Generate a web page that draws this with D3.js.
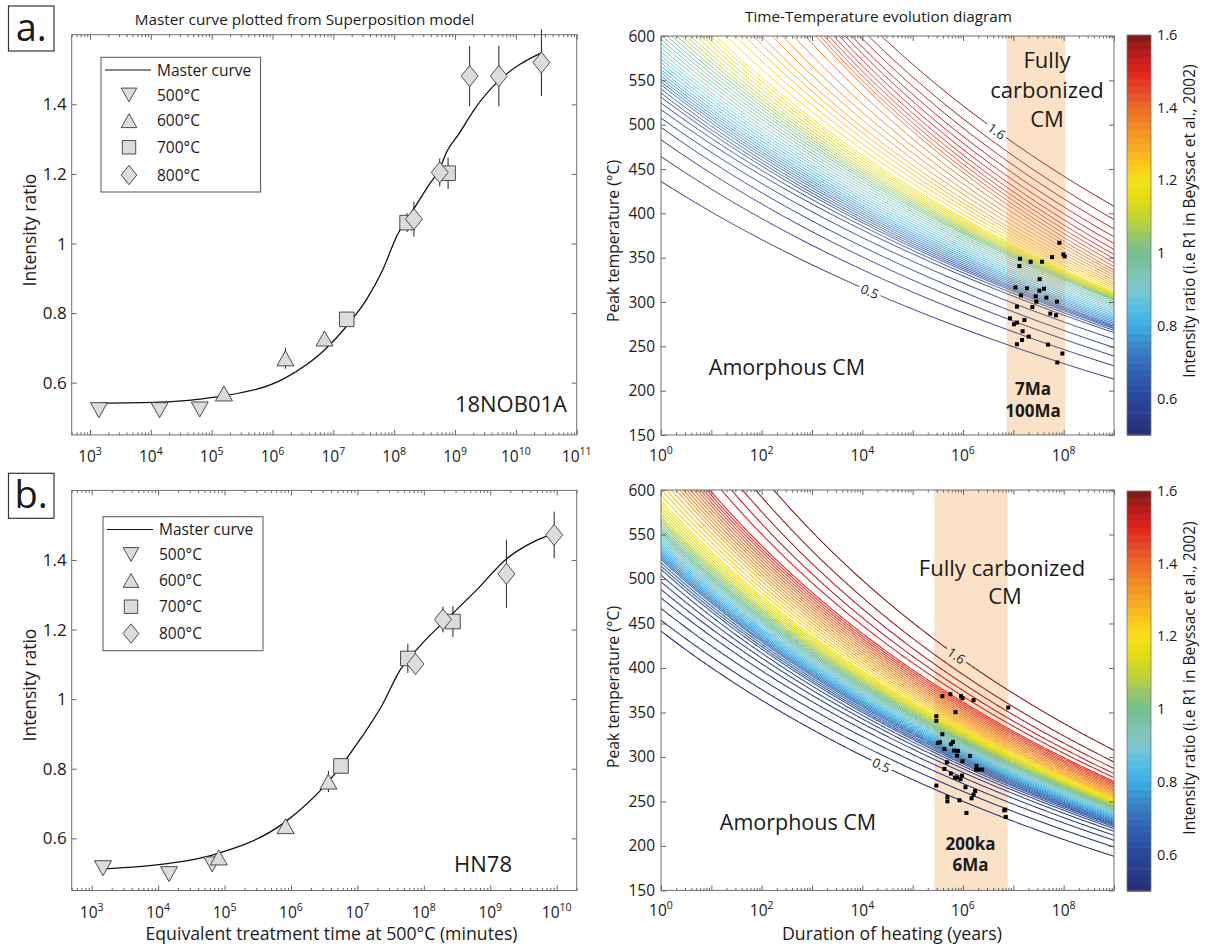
<!DOCTYPE html>
<html>
<head>
<meta charset="utf-8">
<script src="https://cdn.jsdelivr.net/npm/d3@7/dist/d3.min.js"></script>
<style>
html,body{margin:0;padding:0;background:#fff;}
text{font-family:"Open Sans","DejaVu Sans",sans-serif;fill:#1a1a1a;}
</style>
</head>
<body>
<div id="chart"></div>
<script>
// ===================== DATA =====================
// Left panels: equivalent treatment time at 500°C (minutes), intensity ratio, error
const a500 = [[1.40e3,0.521,0.012],[1.39e4,0.521,0.012],[6.37e4,0.523,0.012]];
const a600 = [[1.59e5,0.569,0.010],[1.63e6,0.670,0.030],[7.16e6,0.727,0.015]];
const a700 = [[1.66e7,0.782,0.010],[1.63e8,1.060,0.027],[7.69e8,1.202,0.045]];
const a800 = [[2.11e8,1.070,0.050],[5.60e8,1.204,0.040],[1.74e9,1.481,0.086],[5.25e9,1.481,0.087],[2.63e10,1.520,0.096]];
const aMaster = [[1.40e3,0.541],[1.39e4,0.544],[6.37e4,0.553],[1.59e5,0.562],[1.63e6,0.614],[7.16e6,0.694],[1.66e7,0.763],[3.54e7,0.840],[6.32e7,0.920],[1.13e8,1.025],[2.11e8,1.100],[3.61e8,1.165],[5.60e8,1.215],[7.24e8,1.262],[1.16e9,1.315],[2.07e9,1.385],[5.25e9,1.468],[1.17e10,1.515],[2.63e10,1.548]];

const b500 = [[1.48e3,0.514,0.010],[1.46e4,0.497,0.012],[6.53e4,0.525,0.012]];
const b600 = [[8.18e4,0.545,0.012],[8.30e5,0.635,0.020],[3.66e6,0.763,0.030]];
const b700 = [[5.66e6,0.808,0.023],[5.74e7,1.117,0.042],[2.74e8,1.223,0.044]];
const b800 = [[7.48e7,1.101,0.026],[1.94e8,1.229,0.037],[1.75e9,1.360,0.098],[9.16e9,1.472,0.067]];
const bMaster = [[1.48e3,0.512],[1.46e4,0.528],[6.53e4,0.552],[8.30e5,0.648],[3.66e6,0.763],[1.17e7,0.892],[2.28e7,0.978],[4.41e7,1.084],[8.55e7,1.151],[2.74e8,1.247],[6.24e8,1.314],[1.80e9,1.405],[4.54e9,1.453],[8.81e9,1.475]];

const legendLabels = ["Master curve","500°C","600°C","700°C","800°C"];
const leftYTicks = [0.6,0.8,1.0,1.2,1.4];

// Right panels: samples (duration of heating in years, peak temperature °C)
const ptsA = [[8.22e7,366.8],[5.87e7,350.6],[9.86e7,353.6],[1.05e8,351.4],[1.36e7,348.8],[2.21e7,345.4],[3.72e7,345.4],[1.32e7,340.5],[3.34e7,325.8],[1.10e7,316.5],[1.87e7,315.4],[3.29e7,312.8],[4.07e7,315.0],[1.42e7,307.5],[2.79e7,306.4],[4.53e7,304.9],[7.38e7,300.4],[2.86e7,300.4],[1.18e7,294.8],[2.39e7,294.3],[5.43e7,286.9],[7.05e7,285.0],[8.59e6,281.6],[1.66e7,279.7],[1.18e7,276.8],[1.03e7,274.9],[1.53e7,267.0],[2.02e7,261.0],[1.49e7,257.2],[1.18e7,252.4],[4.89e7,252.0],[9.42e7,241.9],[7.48e7,231.8]];
const ptsB = [[3.89e5,368.3],[5.62e5,370.5],[9.12e5,368.3],[9.77e5,366.0],[1.62e6,363.8],[7.94e6,355.5],[7.08e5,350.3],[2.95e5,345.8],[2.95e5,340.5],[3.89e5,325.5],[3.47e5,316.5],[3.16e5,315.7],[6.31e5,316.9],[5.75e5,314.3],[4.27e5,309.0],[6.61e5,307.2],[7.94e5,306.8],[7.59e5,301.5],[1.38e6,301.1],[4.79e5,294.0],[9.77e5,295.1],[1.86e6,289.9],[1.82e6,285.8],[2.09e6,285.8],[2.40e6,285.8],[4.27e5,286.5],[5.75e5,281.3],[9.55e5,279.0],[6.92e5,276.8],[7.59e5,276.8],[8.91e5,274.9],[2.95e5,267.8],[1.12e6,265.9],[1.74e6,261.7],[1.62e6,257.6],[1.48e6,253.5],[4.90e5,255.0],[4.90e5,250.1],[8.51e5,251.3],[6.92e6,240.8],[6.61e6,240.0],[1.17e6,237.0],[7.08e6,232.5]];
const bandA = [7.4e6, 1.07e8];
const bandB = [2.7e5, 7.7e6];
const bandTextA = ["7Ma","100Ma"];
const bandTextB = ["200ka","6Ma"];

// Iso-intensity contour lines: temperature (°C) of each level at 1 year (T0) and at 1e9 years (T9),
// read from the figure; each line is straight in 1/T vs log(t) (Arrhenius).
const isoVa  = [0.50,0.52,0.54,0.56,0.58,0.60,0.62,0.64,0.70,0.80,0.90,1.00,1.10,1.20,1.30,1.35,1.40,1.42,1.44,1.46,1.48,1.50,1.52,1.54,1.56,1.58,1.60];
const isoT0a = [436,464,483,497,507.5,517,524.5,531,545,562,582,606,632,664,734,784,854,860,866,872,879,886,892,898,905,911,918];
const isoT9a = [213,228,239,248.6,258,265.5,268,270,274,283,293,302,306.5,311,322,329,336,340,344.3,348.8,353.6,359.3,366,373.5,382.5,393,408];
const isoVb  = [0.50,0.52,0.54,0.56,0.58,0.60,0.62,0.64,0.70,0.80,0.90,1.00,1.10,1.20,1.30,1.40,1.50,1.52,1.54,1.56,1.58,1.60];
const isoT0b = [441.4,453.7,466.9,478.8,488.3,496.8,504.4,510.8,522,533,545,556,570,588,620,645,668.2,686.8,703.4,722,744.7,775];
const isoT9b = [188.3,198.8,206.3,211.9,216.5,219.5,221.5,223,226.5,232,237.5,243,247.5,251.5,257,264.5,272.6,276.8,281.3,287,294.4,307.5];
const contourLevels = d3.range(0,56).map(i => +(0.5 + i*0.02).toFixed(2));
const contourLabels = {a:[{v:1.6,lt:6.67},{v:0.5,lt:4.15}], b:[{v:1.6,lt:5.87},{v:0.5,lt:4.38}]};

// Colour map (colorbar stops)
const cmapV = [0.50,0.55,0.60,0.65,0.70,0.75,0.80,0.85,0.90,0.95,1.00,1.05,1.10,1.15,1.20,1.25,1.30,1.35,1.40,1.45,1.50,1.55,1.60];
const cmapC = ["#262f73","#283a87","#2b4799","#2f58a8","#346cb6","#3a8bca","#3aaee2","#55bde0","#7ec7cf","#7fc4b0","#72bf93","#98c765","#c4d332","#e3dc14","#f6e217","#f8c51d","#f5a622","#f18a25","#ec6c25","#e6492a","#e2231e","#b81d1c","#7b1a15"];
const cbarTicks = [0.6,0.8,1.0,1.2,1.4,1.6];
const rightYTicks = [150,200,250,300,350,400,450,500,550,600];

// ===================== LAYOUT =====================
const W = 1206, H = 950;
const LP = {x0:71.7, x1:576.7};
const RP = {x0:661, x1:1114};
const CB = {x0:1127, x1:1151};
const rowsL = [{y0:34.7,y1:434.9},{y0:490.4,y1:890.5}];
const rowsR = [{y0:36,y1:435},{y0:490,y1:890.4}];
const rowsC = [{y0:35,y1:435},{y0:491,y1:891}];
const FRAME = "#6e6e6e";

const svg = d3.select("#chart").append("svg").attr("width",W).attr("height",H)
  .style("background","#fff");

const color = d3.scaleLinear().domain(cmapV).range(cmapC).interpolate(d3.interpolateRgb);

function logTicks(lo, hi){
  const majors=[], minors=[];
  for(let e=Math.floor(lo)-1;e<=Math.ceil(hi);e++){
    for(let m=1;m<10;m++){
      const v=m*Math.pow(10,e), lv=Math.log10(v);
      if(lv<lo-1e-9||lv>hi+1e-9) continue;
      (m===1?majors:minors).push(v);
    }
  }
  return {majors,minors};
}
function styleAxis(g){ g.select(".domain").remove(); g.selectAll("line").attr("stroke","#555").attr("stroke-width",0.9); g.selectAll("text").remove(); }

function supLabel(g, x, y, exp, fs){
  const t=g.append("text").attr("x",x).attr("y",y).attr("text-anchor","middle").attr("font-size",fs);
  t.append("tspan").text("10");
  t.append("tspan").attr("dy",-7).attr("font-size",fs*0.68).text(exp);
}

function markerPath(type, cx, cy, s){
  s = s||1;
  const w=8.5*s, h=7.5*s;
  if(type==="down") return `M${cx-w},${cy-h}L${cx+w},${cy-h}L${cx},${cy+h}Z`;
  if(type==="up") return `M${cx},${cy-h}L${cx+w},${cy+h}L${cx-w},${cy+h}Z`;
  if(type==="sq") return `M${cx-7.3*s},${cy-7.3*s}h${14.6*s}v${14.6*s}h${-14.6*s}Z`;
  return `M${cx},${cy-10.5*s}L${cx+8.5*s},${cy}L${cx},${cy+10.5*s}L${cx-8.5*s},${cy}Z`;
}

// ===================== LEFT PANELS =====================
function drawLeft(cfg){
  const row = cfg.row;
  const g = svg.append("g");
  const x = d3.scaleLog().domain(cfg.xDomain).range([LP.x0,LP.x1]);
  const y = d3.scaleLinear().domain([0.45,1.6]).range([row.y1,row.y0]);
  const lt = logTicks(Math.log10(cfg.xDomain[0]),Math.log10(cfg.xDomain[1]));
  g.append("g").attr("transform",`translate(0,${row.y1})`).call(d3.axisBottom(x).tickValues(lt.majors).tickSize(-5)).call(styleAxis);
  g.append("g").attr("transform",`translate(0,${row.y1})`).call(d3.axisBottom(x).tickValues(lt.minors).tickSize(-2.5)).call(styleAxis);
  g.append("g").attr("transform",`translate(0,${row.y0})`).call(d3.axisTop(x).tickValues(lt.majors).tickSize(-5)).call(styleAxis);
  g.append("g").attr("transform",`translate(0,${row.y0})`).call(d3.axisTop(x).tickValues(lt.minors).tickSize(-2.5)).call(styleAxis);
  g.append("g").attr("transform",`translate(${LP.x0},0)`).call(d3.axisLeft(y).tickValues(leftYTicks).tickSize(-5)).call(styleAxis);
  g.append("g").attr("transform",`translate(${LP.x1},0)`).call(d3.axisRight(y).tickValues(leftYTicks).tickSize(-5)).call(styleAxis);
  lt.majors.forEach(v=>supLabel(g, x(v), row.y1+27, Math.round(Math.log10(v)), 15.5));
  leftYTicks.forEach(v=>g.append("text").attr("x",LP.x0-5).attr("y",y(v)+6).attr("text-anchor","end").attr("font-size",17).text(d3.format("~g")(v)));
  const all = [].concat(cfg.s500,cfg.s600,cfg.s700,cfg.s800);
  g.selectAll(null).data(all).enter().append("line")
    .attr("x1",d=>x(d[0])).attr("x2",d=>x(d[0])).attr("y1",d=>y(d[1]-d[2])).attr("y2",d=>y(d[1]+d[2]))
    .attr("stroke","#222").attr("stroke-width",1);
  g.append("path").datum(cfg.master).attr("fill","none").attr("stroke","#111").attr("stroke-width",1.3)
    .attr("d",d3.line().x(d=>x(d[0])).y(d=>y(d[1])).curve(d3.curveMonotoneX));
  [["down",cfg.s500],["up",cfg.s600],["sq",cfg.s700],["dia",cfg.s800]].forEach(([t,arr])=>{
    g.selectAll(null).data(arr).enter().append("path").attr("d",d=>markerPath(t,x(d[0]),y(d[1])))
      .attr("fill","#dcdcdc").attr("stroke","#3a3a3a").attr("stroke-width",0.9);
  });
  g.append("rect").attr("x",LP.x0).attr("y",row.y0).attr("width",LP.x1-LP.x0).attr("height",row.y1-row.y0)
    .attr("fill","none").attr("stroke",FRAME).attr("stroke-width",1);
  const L = cfg.legend;
  g.append("rect").attr("x",L.x0).attr("y",L.y0).attr("width",L.x1-L.x0).attr("height",L.y1-L.y0)
    .attr("fill","#fff").attr("stroke","#555").attr("stroke-width",1);
  g.append("line").attr("x1",L.x0+4).attr("x2",L.x0+50).attr("y1",L.rows[0]).attr("y2",L.rows[0]).attr("stroke","#111").attr("stroke-width",1.2);
  ["down","up","sq","dia"].forEach((t,i)=>{
    g.append("path").attr("d",markerPath(t,L.x0+28,L.rows[i+1],0.92)).attr("fill","#dcdcdc").attr("stroke","#3a3a3a").attr("stroke-width",0.9);
  });
  legendLabels.forEach((s,i)=>g.append("text").attr("x",L.x0+56).attr("y",L.rows[i]+5.5).attr("font-size",15.5).text(s));
  g.append("text").attr("x",cfg.sample.x).attr("y",cfg.sample.y).attr("text-anchor","end").attr("font-size",22).text(cfg.sample.text);
  g.append("text").attr("transform",`translate(${36},${cfg.ylabY}) rotate(-90)`).attr("text-anchor","middle").attr("font-size",17.5).text("Intensity ratio");
}

// ===================== RIGHT PANELS =====================
function drawRight(cfg){
  const row = cfg.row;
  const g = svg.append("g");
  const x = d3.scaleLog().domain([1,1e9]).range([RP.x0,RP.x1]);
  const y = d3.scaleLinear().domain([150,600]).range([row.y1,row.y0]);
  const clipId = "clip"+cfg.id;
  svg.append("clipPath").attr("id",clipId).append("rect").attr("x",RP.x0).attr("y",row.y0).attr("width",RP.x1-RP.x0).attr("height",row.y1-row.y0);
  const inner = g.append("g").attr("clip-path",`url(#${clipId})`);
  inner.append("rect").attr("x",x(cfg.band[0])).attr("y",row.y0).attr("width",x(cfg.band[1])-x(cfg.band[0])).attr("height",row.y1-row.y0)
    .attr("fill","#fbe1c6");
  const t0 = d3.scaleLinear().domain(cfg.isoV).range(cfg.T0);
  const t9 = d3.scaleLinear().domain(cfg.isoV).range(cfg.T9);
  const lts = d3.range(0,9.0001,0.02);
  const tempAt = (v,l) => { const i0=1/(t0(v)+273.15), i9=1/(t9(v)+273.15); return 1/(i0+(i9-i0)*l/9) - 273.15; };
  const labelInfo = {};
  cfg.labels.forEach(L=>{
    const f = l => [x(Math.pow(10,l)), y(tempAt(L.v,l))];
    const p=f(L.lt), p1=f(L.lt-0.05), p2=f(L.lt+0.05);
    labelInfo[L.v.toFixed(2)] = {p, ang: Math.atan2(p2[1]-p1[1],p2[0]-p1[0])*180/Math.PI, text: d3.format("~g")(L.v)};
  });
  contourLevels.forEach(v=>{
    const li = labelInfo[v.toFixed(2)];
    const ln = d3.line().x(d=>x(d[0])).y(d=>y(d[1]))
      .defined(d=> !li || Math.hypot(x(d[0])-li.p[0], y(d[1])-li.p[1])>11);
    const pts = lts.map(l=>[Math.pow(10,l), tempAt(v,l)]);
    inner.append("path").attr("d",ln(pts)).attr("fill","none").attr("stroke",color(v)).attr("stroke-width",cfg.lw);
  });
  Object.values(labelInfo).forEach(li=>{
    g.append("text").attr("transform",`translate(${li.p[0]},${li.p[1]}) rotate(${li.ang})`).attr("text-anchor","middle")
      .attr("dominant-baseline","central").attr("font-size",13).text(li.text);
  });
  inner.selectAll(null).data(cfg.pts).enter().append("rect")
    .attr("x",d=>x(d[0])-2).attr("y",d=>y(d[1])-2).attr("width",4).attr("height",4).attr("fill","#000");
  const lt = logTicks(0,9);
  g.append("g").attr("transform",`translate(0,${row.y1})`).call(d3.axisBottom(x).tickValues(lt.majors).tickSize(-5)).call(styleAxis);
  g.append("g").attr("transform",`translate(0,${row.y1})`).call(d3.axisBottom(x).tickValues(lt.minors).tickSize(-2.5)).call(styleAxis);
  g.append("g").attr("transform",`translate(0,${row.y0})`).call(d3.axisTop(x).tickValues(lt.majors).tickSize(-5)).call(styleAxis);
  g.append("g").attr("transform",`translate(0,${row.y0})`).call(d3.axisTop(x).tickValues(lt.minors).tickSize(-2.5)).call(styleAxis);
  g.append("g").attr("transform",`translate(${RP.x0},0)`).call(d3.axisLeft(y).tickValues(rightYTicks).tickSize(-5)).call(styleAxis);
  g.append("g").attr("transform",`translate(${RP.x1},0)`).call(d3.axisRight(y).tickValues(rightYTicks).tickSize(-5)).call(styleAxis);
  lt.majors.filter(v=>Math.round(Math.log10(v))%2===0).forEach(v=>supLabel(g, x(v), row.y1+26, Math.round(Math.log10(v)), 15.5));
  rightYTicks.forEach(v=>g.append("text").attr("x",RP.x0-6).attr("y",y(v)+5.5).attr("text-anchor","end").attr("font-size",15.5).text(v));
  g.append("rect").attr("x",RP.x0).attr("y",row.y0).attr("width",RP.x1-RP.x0).attr("height",row.y1-row.y0)
    .attr("fill","none").attr("stroke",FRAME).attr("stroke-width",1);
  cfg.texts.forEach(t=>g.append("text").attr("x",t.x).attr("y",t.y).attr("text-anchor","middle").attr("font-size",t.fs)
    .attr("font-weight",t.bold?"bold":null).text(t.s));
  g.append("text").attr("transform",`translate(${618.5},${cfg.ylabY}) rotate(-90)`).attr("text-anchor","middle").attr("font-size",15.7).text("Peak temperature (°C)");

  // colorbar (one band per contour interval)
  const rc = cfg.crow;
  const cy = d3.scaleLinear().domain([0.5,1.6]).range([rc.y1,rc.y0]);
  const cg = svg.append("g");
  contourLevels.forEach(v0=>{
    const v1=Math.min(1.6,v0+0.02);
    if(v1<=v0) return;
    cg.append("rect").attr("x",CB.x0).attr("y",cy(v1)).attr("width",CB.x1-CB.x0).attr("height",cy(v0)-cy(v1)+0.6)
      .attr("fill",color(v0+0.01));
  });
  cg.append("rect").attr("x",CB.x0).attr("y",rc.y0).attr("width",CB.x1-CB.x0).attr("height",rc.y1-rc.y0).attr("fill","none").attr("stroke","#777").attr("stroke-width",0.8);
  cbarTicks.forEach(v=>cg.append("text").attr("x",CB.x1+6).attr("y",cy(v)+5).attr("font-size",14.5).text(d3.format("~g")(v)));
  cg.append("text").attr("transform",`translate(${1195},${cfg.cbLabY}) rotate(-90)`).attr("text-anchor","middle").attr("font-size",15.5)
    .text("Intensity ratio (i.e R1 in Beyssac et al., 2002)");
}

// ===================== DRAW =====================
drawLeft({row:rowsL[0], xDomain:[500,1e11], s500:a500,s600:a600,s700:a700,s800:a800, master:aMaster,
  legend:{x0:101,x1:260.6,y0:57.3,y1:192,rows:[70,95,120.7,147.3,175]},
  sample:{text:"18NOB01A",x:567,y:412}, ylabY:230});
drawLeft({row:rowsL[1], xDomain:[500,2e10], s500:b500,s600:b600,s700:b700,s800:b800, master:bMaster,
  legend:{x0:103,x1:263,y0:516.7,y1:650.7,rows:[529.5,554.5,580.5,606.7,633.5]},
  sample:{text:"HN78",x:512,y:872}, ylabY:685});

drawRight({id:"a", row:rowsR[0], crow:rowsC[0], isoV:isoVa, T0:isoT0a, T9:isoT9a, band:bandA, pts:ptsA, labels:contourLabels.a, lw:1.0,
  texts:[{s:"Fully",x:1047,y:68,fs:22},{s:"carbonized",x:1047,y:97.5,fs:22},{s:"CM",x:1047,y:127,fs:22},
         {s:"Amorphous CM",x:787,y:375,fs:21.5},{s:bandTextA[0],x:1033,y:395,fs:17,bold:true},{s:bandTextA[1],x:1033,y:417,fs:17,bold:true}],
  ylabY:241, cbLabY:221});
drawRight({id:"b", row:rowsR[1], crow:rowsC[1], isoV:isoVb, T0:isoT0b, T9:isoT9b, band:bandB, pts:ptsB, labels:contourLabels.b, lw:1.05,
  texts:[{s:"Fully carbonized",x:1002,y:576,fs:22},{s:"CM",x:1005,y:603.5,fs:22},
         {s:"Amorphous CM",x:798,y:830,fs:21.5},{s:bandTextB[0],x:970.5,y:849.5,fs:17,bold:true},{s:bandTextB[1],x:970.5,y:871,fs:17,bold:true}],
  ylabY:687, cbLabY:678});

svg.append("text").attr("x",304.6).attr("y",25).attr("text-anchor","middle").attr("font-size",15.3).text("Master curve plotted from Superposition model");
svg.append("text").attr("x",878.5).attr("y",22).attr("text-anchor","middle").attr("font-size",15.3).text("Time-Temperature evolution diagram");
svg.append("text").attr("x",331.5).attr("y",940).attr("text-anchor","middle").attr("font-size",17.7).text("Equivalent treatment time at 500°C (minutes)");
svg.append("text").attr("x",892).attr("y",940).attr("text-anchor","middle").attr("font-size",17.7).text("Duration of heating (years)");
[["a.",6],["b.",473.3]].forEach(([s,y0])=>{
  svg.append("rect").attr("x",8.5).attr("y",y0).attr("width",45.5).attr("height",45).attr("fill","#fff").attr("stroke","#333").attr("stroke-width",1.2);
  svg.append("text").attr("x",31.2).attr("y",y0+35).attr("text-anchor","middle").attr("font-size",38).text(s);
});
</script>
</body>
</html>
